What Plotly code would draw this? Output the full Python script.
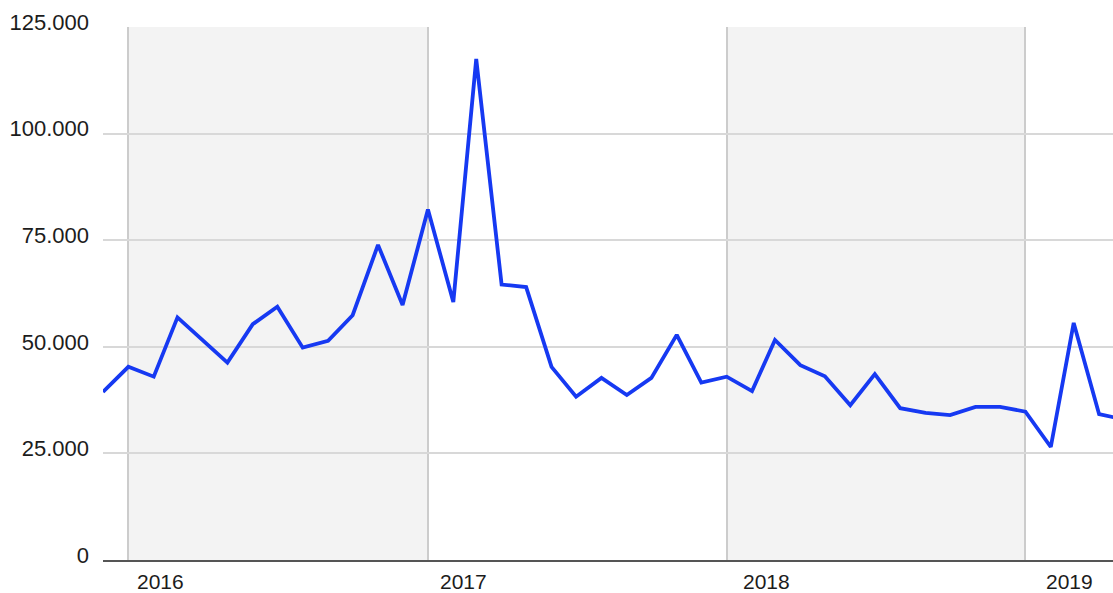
import pandas as pd
import plotly.graph_objects as go

# Monthly series, Dec 2015 - May 2019
months = pd.date_range("2015-12-01", "2019-05-01", freq="MS")
values = [
    39400,
    45300, 43000, 56900, 51500, 46300, 55300, 59400, 49800, 51400, 57400, 73900, 59800,
    82200, 60500, 117500, 64600, 64000, 45300, 38300, 42700, 38700, 42700, 52800, 41600,
    43000, 39600, 51600, 45700, 43100, 36300, 43600, 35600, 34500, 34000, 35900, 35900,
    34800, 26500, 55600, 34200, 33000,
]
year_labels = ["2016", "2017", "2018", "2019"]
shaded_years = [2016, 2018]
y_ticks = [0, 25000, 50000, 75000, 100000, 125000]

FONT = "Liberation Sans, Arial, sans-serif"
TEXT = "#1c1c1c"

fig = go.Figure()
fig.add_trace(go.Scatter(
    x=months, y=values, mode="lines",
    line=dict(color="#1639f2", width=3.8),
    hoverinfo="skip", showlegend=False,
))

# alternating year bands
for yr in shaded_years:
    fig.add_shape(
        type="rect", xref="x", yref="paper",
        x0=f"{yr}-01-01", x1=f"{yr + 1}-01-01", y0=0, y1=1,
        fillcolor="#f3f3f3", line=dict(width=0), layer="below",
    )

# year labels sit just right of each year boundary
for i, lab in enumerate(year_labels):
    fig.add_annotation(
        x=f"{lab}-01-01", xref="x", y=0, yref="paper",
        text=lab, showarrow=False, xanchor="center", yanchor="middle",
        xshift=32 + 4 * i, yshift=-21,
        font=dict(family=FONT, size=21, color=TEXT),
    )

fig.update_layout(
    width=1113, height=593,
    margin=dict(l=103, r=0, t=27, b=33),
    paper_bgcolor="white", plot_bgcolor="white",
    separators=",.",
    font=dict(family=FONT, size=22, color=TEXT),
    showlegend=False,
)
fig.update_xaxes(
    type="date",
    range=["2015-12-01", "2019-04-18"],
    tickvals=[f"{y}-01-01" for y in year_labels],
    showticklabels=False,
    showgrid=True, gridcolor="#cccccc", gridwidth=2,
    showline=True, linecolor="#555555", linewidth=2,
    zeroline=False, ticks="",
)
fig.update_yaxes(
    range=[0, 125000],
    tickvals=y_ticks, tickformat=",d",
    showgrid=True, gridcolor="#d8d8d8", gridwidth=2,
    zeroline=False, showline=False, ticks="",
    ticklabelstandoff=13, ticklabelshift=-5,
    tickfont=dict(family=FONT, size=22, color=TEXT),
)

fig.write_html("out.html")
